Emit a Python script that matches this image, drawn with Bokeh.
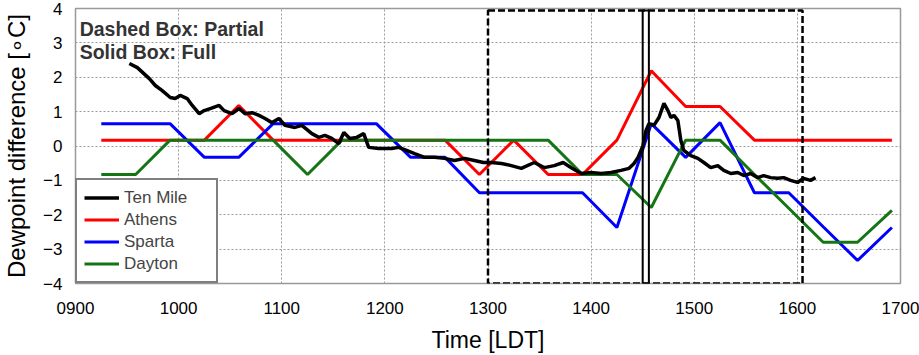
from bokeh.plotting import figure
from bokeh.models import FixedTicker, Label, Legend, LegendItem, Range1d
from bokeh.embed import file_html
from bokeh.resources import INLINE

# ---------------- data ----------------
station_times = ["0915", "0935", "0955", "1015", "1035", "1055", "1115", "1135",
                 "1155", "1215", "1235", "1255", "1315", "1335", "1355", "1415",
                 "1435", "1455", "1515", "1535", "1555", "1615", "1635", "1655"]
athens = [0.17, 0.17, 0.17, 0.17, 1.18, 0.17, 0.17, 0.17, 0.17, 0.17, 0.17, -0.83,
          0.17, -0.83, -0.83, 0.17, 2.19, 1.15, 1.15, 0.17, 0.17, 0.17, 0.17, 0.17]
sparta = [0.65, 0.65, 0.65, -0.33, -0.33, 0.65, 0.65, 0.65, 0.65, -0.33, -0.33, -1.36,
          -1.36, -1.36, -1.36, -2.37, 0.65, -0.33, 0.68, -1.36, -1.36, -2.35, -3.33, -2.37]
dayton = [-0.83, -0.83, 0.17, 0.17, 0.17, 0.17, -0.83, 0.17, 0.17, 0.17, 0.17, 0.17,
          0.17, 0.17, -0.83, -0.83, -1.79, 0.17, 0.17, -0.83, -1.81, -2.80, -2.80, -1.87]

ten_mile_time = [9.522, 9.600, 9.716, 9.774, 9.841, 9.919, 9.967, 10.015, 10.083, 10.132,
                 10.199, 10.248, 10.306, 10.393, 10.441, 10.518, 10.586, 10.644, 10.712,
                 10.779, 10.838, 10.905, 10.973, 11.031, 11.128, 11.195, 11.292, 11.360,
                 11.418, 11.485, 11.553, 11.602, 11.660, 11.727, 11.795, 11.843, 11.940,
                 11.998, 12.066, 12.133, 12.211, 12.288, 12.385, 12.482, 12.578, 12.675,
                 12.772, 12.868, 12.956, 13.033, 13.130, 13.226, 13.323, 13.449, 13.545,
                 13.642, 13.729, 13.807, 13.903, 14.000, 14.097, 14.193, 14.290, 14.368,
                 14.416, 14.455, 14.503, 14.532, 14.561, 14.609, 14.658, 14.706, 14.745,
                 14.774, 14.803, 14.841, 14.870, 14.899, 14.967, 15.035, 15.093, 15.160,
                 15.228, 15.286, 15.354, 15.422, 15.480, 15.547, 15.615, 15.673, 15.741,
                 15.809, 15.867, 15.934, 16.002, 16.060, 16.128, 16.176]
ten_mile = [2.40, 2.28, 1.96, 1.76, 1.61, 1.41, 1.38, 1.47, 1.38, 1.18,
            0.94, 1.03, 1.09, 1.18, 1.03, 0.94, 1.09, 0.94, 0.97,
            0.89, 0.80, 0.68, 0.80, 0.60, 0.54, 0.60, 0.36, 0.25,
            0.31, 0.22, 0.07, 0.39, 0.22, 0.25, 0.36, -0.04, -0.07,
            -0.07, -0.07, -0.04, -0.13, -0.22, -0.33, -0.33, -0.36, -0.42,
            -0.36, -0.42, -0.48, -0.48, -0.51, -0.57, -0.65, -0.48, -0.63,
            -0.57, -0.48, -0.63, -0.80, -0.77, -0.80, -0.77, -0.71, -0.65,
            -0.51, -0.33, 0.01, 0.45, 0.65, 0.60, 0.83, 1.24, 1.03,
            0.83, 0.89, 0.74, 0.16, -0.13, -0.28, -0.36, -0.48, -0.63,
            -0.57, -0.71, -0.80, -0.77, -0.86, -0.80, -0.92, -0.86, -0.92,
            -0.94, -0.92, -1.00, -1.06, -0.94, -1.00, -0.92]

x_ticks = [9, 10, 11, 12, 13, 14, 15, 16, 17]
x_tick_labels = ["0900", "1000", "1100", "1200", "1300", "1400", "1500", "1600", "1700"]
y_ticks = [-4, -3, -2, -1, 0, 1, 2, 3, 4]
y_tick_labels = ["\u22124", "\u22123", "\u22122", "\u22121", "0", "1", "2", "3", "4"]

# boxes (time in hours, value in degC)
partial_box = dict(left=13.0, right=16.05, bottom=-4.0, top=3.94)
full_box = dict(left=14.50, right=14.56, bottom=-4.0, top=3.94)


def hhmm(s):
    return int(s[:2]) + int(s[2:]) / 60.0


st_x = [hhmm(s) for s in station_times]

FONT = "Liberation Sans"

p = figure(width=919, height=355, x_range=Range1d(9, 17), y_range=Range1d(-4, 4),
           output_backend="svg", toolbar_location=None,
           min_border_left=73, min_border_right=19, min_border_top=8, min_border_bottom=72,
           background_fill_color="white", border_fill_color="white")

p.outline_line_color = "#999999"
p.outline_line_width = 1.5

for ax in (p.xaxis, p.yaxis):
    ax.axis_line_color = None
    ax.major_tick_line_color = None
    ax.minor_tick_line_color = None
    ax.major_label_text_font = FONT
    ax.major_label_text_font_size = "17px"
    ax.major_label_text_color = "black"
    ax.axis_label_text_font = FONT
    ax.axis_label_text_font_style = "normal"
    ax.axis_label_text_color = "black"

p.xaxis.ticker = FixedTicker(ticks=x_ticks)
p.xaxis.major_label_overrides = {t: l for t, l in zip(x_ticks, x_tick_labels)}
p.yaxis.ticker = FixedTicker(ticks=y_ticks)
p.yaxis.major_label_overrides = {t: l for t, l in zip(y_ticks, y_tick_labels)}
p.xaxis.major_label_standoff = 12
p.yaxis.major_label_standoff = 7
p.xaxis.axis_label = "Time [LDT]"
p.yaxis.axis_label = "Dewpoint difference [\u2218C]"
p.xaxis.axis_label_text_font_size = "23px"
p.yaxis.axis_label_text_font_size = "24px"
p.xaxis.axis_label_standoff = 10
p.yaxis.axis_label_standoff = 10

for g in (p.xgrid, p.ygrid):
    g.grid_line_color = "#9a9a9a"
    g.grid_line_dash = "2 2"
    g.grid_line_width = 1

r_a = p.line(st_x, athens, line_color="#ff0000", line_width=3)
r_s = p.line(st_x, sparta, line_color="#0000ff", line_width=3)
r_d = p.line(st_x, dayton, line_color="#157515", line_width=3)
r_t = p.line(ten_mile_time, ten_mile, line_color="black", line_width=3.5)

p.quad(left=[partial_box["left"]], right=[partial_box["right"]],
       bottom=[partial_box["bottom"]], top=[partial_box["top"]],
       fill_color=None, line_color="black", line_width=2.5, line_dash="7 3")
p.quad(left=[full_box["left"]], right=[full_box["right"]],
       bottom=[full_box["bottom"]], top=[full_box["top"]],
       fill_color=None, line_color="black", line_width=2)

legend = Legend(items=[LegendItem(label="Ten Mile", renderers=[r_t]),
                       LegendItem(label="Athens", renderers=[r_a]),
                       LegendItem(label="Sparta", renderers=[r_s]),
                       LegendItem(label="Dayton", renderers=[r_d])],
                location="bottom_left", margin=0, padding=7, spacing=1,
                glyph_width=35, glyph_height=21, label_height=21, label_width=85,
                label_standoff=5, label_text_font=FONT, label_text_font_size="17px",
                border_line_color="black", border_line_width=2,
                background_fill_color="white", background_fill_alpha=1.0)
p.add_layout(legend, "center")

p.add_layout(Label(x=9.04, y=3.40, text="Dashed Box: Partial", text_font=FONT,
                   text_font_size="19.5px", text_font_style="bold", text_color="#333333",
                   text_baseline="middle"))
p.add_layout(Label(x=9.04, y=2.73, text="Solid Box: Full", text_font=FONT,
                   text_font_size="19.5px", text_font_style="bold", text_color="#333333",
                   text_baseline="middle"))

open("out.html", "w").write(file_html(p, INLINE))
